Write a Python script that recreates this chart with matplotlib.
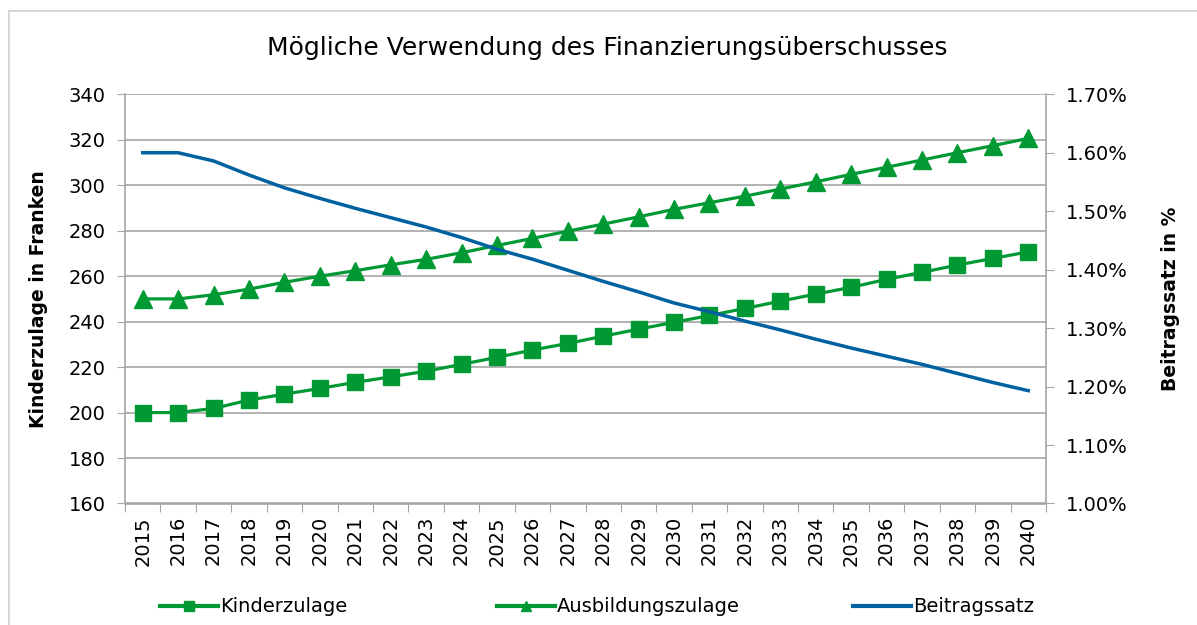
import matplotlib.pyplot as plt
import numpy as np
from matplotlib.lines import Line2D
from matplotlib.ticker import FuncFormatter

plt.rcParams['font.family'] = ['DejaVu Sans']

years = [str(y) for y in range(2015, 2041)]

kinderzulage = [200.0, 200.0, 201.8, 205.5, 208.1, 210.6, 213.3, 215.7, 218.2, 221.2,
                224.3, 227.5, 230.4, 233.6, 236.7, 239.7, 242.7, 245.8, 249.0, 252.1,
                255.1, 258.6, 261.7, 264.9, 267.8, 270.7]

ausbildungszulage = [250.0, 250.0, 251.8, 254.3, 257.3, 260.0, 262.4, 265.0, 267.4, 270.3,
                     273.5, 276.6, 279.8, 282.9, 286.1, 289.4, 292.3, 295.2, 298.3, 301.5,
                     304.8, 307.9, 311.1, 314.3, 317.4, 320.6]

# in percent
beitragssatz = [1.600, 1.600, 1.586, 1.562, 1.540, 1.522, 1.505, 1.489, 1.473, 1.455,
                1.435, 1.418, 1.399, 1.380, 1.362, 1.343, 1.328, 1.312, 1.297, 1.281,
                1.266, 1.252, 1.238, 1.2225, 1.207, 1.193]

green = '#009933'
blue = '#0061a0'
grid_col = '#a6a6a6'

fig = plt.figure(figsize=(11.97, 6.25), dpi=100)
ax = fig.add_axes([125 / 1197, 1 - 503.5 / 625, 921 / 1197, 409.2 / 625])

x = np.arange(len(years))
ax.plot(x, kinderzulage, color=green, lw=2.3, marker='s', ms=12, zorder=3)
ax.plot(x, ausbildungszulage, color=green, lw=2.3, marker='^', ms=13, zorder=3)

ax.set_xlim(-0.5, len(years) - 0.5)
ax.set_ylim(160, 340)
ax.set_yticks(np.arange(160, 341, 20))
ax.yaxis.grid(True, color=grid_col, lw=1.2)
ax.set_axisbelow(True)

# tick marks between categories, labels centred
ax.set_xticks(np.arange(-0.5, len(years), 1))
ax.set_xticklabels([])
ax.set_xticks(x, minor=True)
ax.set_xticklabels(years, minor=True, rotation=90, fontsize=14)
ax.tick_params(axis='x', which='major', length=6, color=grid_col)
ax.tick_params(axis='x', which='minor', length=0, pad=9)
ax.tick_params(axis='y', length=6, color=grid_col, labelsize=14, pad=8)

for s in ['top', 'right']:
    ax.spines[s].set_visible(False)
for s in ['left', 'bottom']:
    ax.spines[s].set_color(grid_col)
    ax.spines[s].set_linewidth(1.2)

ax.set_ylabel('Kinderzulage in Franken', fontsize=13.5, fontweight='bold', labelpad=15)

ax2 = ax.twinx()
ax2.plot(x, beitragssatz, color=blue, lw=2.5)
ax2.set_ylim(1.0, 1.7)
ax2.set_yticks(np.arange(1.0, 1.71, 0.1))
ax2.yaxis.set_major_formatter(FuncFormatter(lambda v, p: f'{v:.2f}%'))
ax2.tick_params(axis='y', length=6, color=grid_col, labelsize=14, pad=8)
for s in ['top', 'left', 'bottom']:
    ax2.spines[s].set_visible(False)
ax2.spines['right'].set_color(grid_col)
ax2.spines['right'].set_linewidth(1.2)
ax2.set_ylabel('Beitragssatz in %', fontsize=13.5, fontweight='bold', labelpad=24)

fig.suptitle('Mögliche Verwendung des Finanzierungsüberschusses', fontsize=18,
             x=0.507, y=0.942)

legend_items = [
    (Line2D([], [], color=green, lw=3, marker='s', ms=7), 'Kinderzulage', 160),
    (Line2D([], [], color=green, lw=3, marker='^', ms=7), 'Ausbildungszulage', 497),
    (Line2D([], [], color=blue, lw=3), 'Beitragssatz', 853),
]
for h, lab, xpix in legend_items:
    fig.legend([h], [lab], loc='center left', bbox_to_anchor=(xpix / 1197, 1 - 607 / 625),
               frameon=False, fontsize=14, handlelength=3.0, handletextpad=0.1,
               borderpad=0, borderaxespad=0)

# light outer frame
fig.add_artist(Line2D([9 / 1197, 9 / 1197], [0, 1 - 11 / 625], transform=fig.transFigure,
                      color='#d0d0d0', lw=1.2))
fig.add_artist(Line2D([9 / 1197, 1], [1 - 11 / 625, 1 - 11 / 625], transform=fig.transFigure,
                      color='#d0d0d0', lw=1.2))

fig.savefig('out.png', dpi=100)
